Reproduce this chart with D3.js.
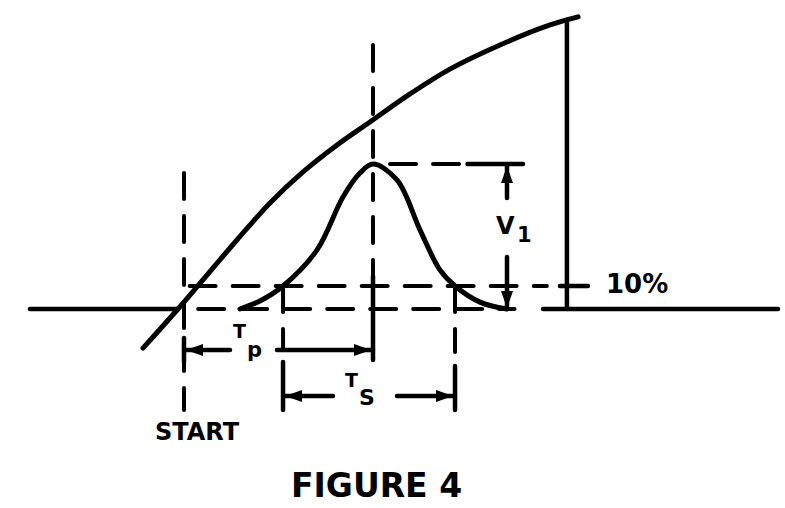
<!DOCTYPE html>
<html>
<head>
<meta charset="utf-8">
<script src="https://cdn.jsdelivr.net/npm/d3@7"></script>
<style>
  body { margin: 0; background: #fff; }
  svg { display: block; }
  text { font-family: "DejaVu Sans", sans-serif; font-weight: bold; fill: #000; }
</style>
</head>
<body>
<div id="chart"></div>
<script>
// Time axis: START = 0, pulse peak = 10 (arbitrary units)
// Amplitude axis: percent, the threshold line sits at 10
const rampT = [-2.17, -0.32, 2.8, 4.55, 6.3, 8.1, 9.84, 11.96, 14.07, 16.72, 19.37, 20.85];
const rampV = [-17, 0, 30, 46.1, 59.6, 71.3, 81.3, 93.5, 104.3, 114.8, 123.5, 127];

const pulseT = [2.96, 4.02, 5.24, 7.04, 8.41, 9.31, 10, 11.27, 12.49, 13.54, 14.34, 15.66, 17.09];
const pulseV = [0, 3.5, 10, 25.7, 48.7, 59.1, 63, 56.1, 34.3, 17, 10, 3, 0];

const baseLeft = [-8.15, -0.3];
const baseRight = [19.0, 31.43];
const cutT = 20.26;   // ramp falls back to the baseline here
const threshold = 10; // 10% level

const startLabel = "START";
const levelLabel = "10%";
const figureLabel = "FIGURE 4";
const tpLabel = ["T", "p"];
const tsLabel = ["T", "S"];
const v1Label = ["V", "1"];

const width = 785;
const height = 508;

const x = d3.scaleLinear().domain([0, 10]).range([184, 373]);
const y = d3.scaleLinear().domain([0, 10]).range([309, 286]);

const svg = d3.select("#chart")
  .append("svg")
  .attr("width", width)
  .attr("height", height);

const ink = svg.append("g")
  .attr("fill", "none")
  .attr("stroke", "#000")
  .attr("stroke-linecap", "round");

// key instants read from the data
const iPeak = d3.maxIndex(pulseV);
const tPeak = pulseT[iPeak];
const vPeak = pulseV[iPeak];
const tRise = pulseT[pulseV.indexOf(threshold)];
const tFall = pulseT[pulseV.lastIndexOf(threshold)];
const tEnd = pulseT[pulseT.length - 1];
const n = rampT.length;
const vCut = d3.interpolateNumber(rampV[n - 2], rampV[n - 1])(
  (cutT - rampT[n - 2]) / (rampT[n - 1] - rampT[n - 2])
);

const line = d3.line()
  .x((d) => x(d[0]))
  .y((d) => y(d[1]))
  .curve(d3.curveCatmullRom);

// dashed helper lines
const dashed = ink.append("g")
  .attr("stroke-width", 4)
  .attr("stroke-dasharray", "26 17");

function seg(g, x1, y1, x2, y2) {
  return g.append("line")
    .attr("x1", x1).attr("y1", y1)
    .attr("x2", x2).attr("y2", y2);
}

seg(dashed, x(0.3), y(threshold), x(19.2), y(threshold));
seg(dashed, x(0.75), y(0), x(tEnd + 0.4), y(0));
seg(dashed, x(0), 173, x(0), 410);
seg(dashed, x(tPeak), 45, x(tPeak), y(threshold));
seg(dashed, x(tRise), y(threshold), x(tRise), 350);
seg(dashed, x(tFall), y(threshold), x(tFall), 352);
seg(dashed, x(10.9), y(vPeak), x(15), y(vPeak));

// solid lines
const solid = ink.append("g").attr("stroke-width", 4.5);

seg(solid, x(baseLeft[0]), y(0), x(baseLeft[1]), y(0));
seg(solid, x(baseRight[0]), y(0), x(baseRight[1]), y(0));
seg(solid, x(cutT), y(vCut), x(cutT), y(0));
seg(solid, x(cutT) - 7, y(threshold), x(cutT) + 21, y(threshold));
seg(solid, x(tPeak), y(threshold) - 10, x(tPeak), 360);
seg(solid, x(tRise), 362, x(tRise), 410);
seg(solid, x(tFall), 366, x(tFall), 410);
seg(solid, x(0), 338, x(0), 362);
seg(solid, x(15), y(vPeak), x(tEnd) + 16, y(vPeak));

solid.append("path")
  .attr("stroke-width", 5)
  .attr("d", line(d3.zip(rampT, rampV)));

solid.append("path")
  .attr("stroke-width", 5)
  .attr("d", line(d3.zip(pulseT, pulseV)));

// arrow heads: tip at (px, py), pointing along dir
function head(px, py, dir) {
  const len = 17, half = 6;
  const pts = {
    left: [[px, py], [px + len, py - half], [px + len, py + half]],
    right: [[px, py], [px - len, py - half], [px - len, py + half]],
    up: [[px, py], [px - half, py + len], [px + half, py + len]],
    down: [[px, py], [px - half, py - len], [px + half, py - len]],
  }[dir];
  svg.append("path")
    .attr("fill", "#000")
    .attr("d", "M" + pts.join("L") + "Z");
}

// Tp dimension
const yTp = 350;
seg(solid, x(0), yTp, 230, yTp);
seg(solid, 277, yTp, x(tPeak), yTp);
head(x(0) + 2, yTp, "left");
head(x(tPeak) - 2, yTp, "right");

// Ts dimension
const yTs = 396;
seg(solid, x(tRise), yTs, 333, yTs);
seg(solid, 397, yTs, x(tFall), yTs);
head(x(tRise) + 2, yTs, "left");
head(x(tFall) - 2, yTs, "right");

// V1 dimension
const xV = x(tEnd);
seg(solid, xV, y(vPeak), xV, 198);
seg(solid, xV, 257, xV, y(0));
head(xV, y(vPeak) + 2, "up");
head(xV, y(0) - 1, "down");

// labels
function sub(main, small, xm, ym, fm, xs, ys, fs, light) {
  svg.append("text").attr("x", xm).attr("y", ym)
    .attr("font-size", fm).text(main);
  svg.append("text").attr("x", xs).attr("y", ys)
    .attr("font-size", fs)
    .attr("font-weight", light ? "normal" : "bold")
    .text(small);
}

sub(tpLabel[0], tpLabel[1], 233, 338, 19, 247, 357, 21);
sub(tsLabel[0], tsLabel[1], 345, 387, 19, 359, 405, 22);
sub(v1Label[0], v1Label[1], 496, 234, 24, 517, 242, 21, true);

svg.append("text")
  .attr("x", 155).attr("y", 440)
  .attr("font-size", 24)
  .text(startLabel);

svg.append("text")
  .attr("x", 606).attr("y", 293)
  .attr("font-size", 26)
  .text(levelLabel);

svg.append("text")
  .attr("x", 291).attr("y", 497)
  .attr("font-size", 33)
  .text(figureLabel);
</script>
</body>
</html>
